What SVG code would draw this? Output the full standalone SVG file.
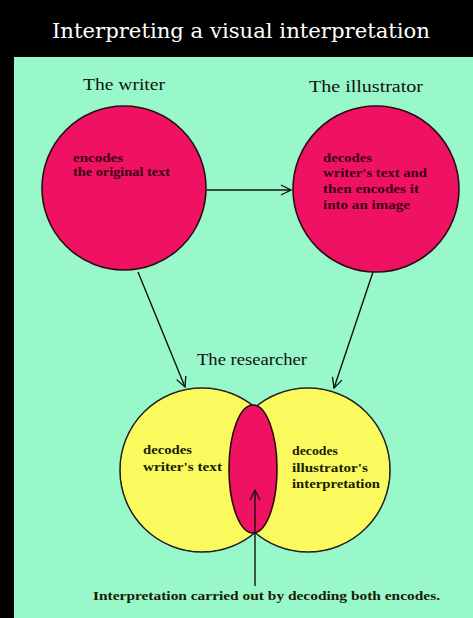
<svg xmlns="http://www.w3.org/2000/svg" width="473" height="618" viewBox="0 0 473 618">
<defs>
<marker id="arr" viewBox="0 0 12 12" refX="11" refY="6" markerWidth="12" markerHeight="12" markerUnits="userSpaceOnUse" orient="auto">
<path d="M1,1 L11,6 L1,11" fill="none" stroke="#111" stroke-width="1.3"/>
</marker>
<style>
.lbl{font-family:"Liberation Serif","Times New Roman",serif;font-size:16px;fill:#111}
.in{font-family:"Liberation Serif","Times New Roman",serif;font-size:11.5px;font-weight:bold;fill:#3a0010}
.iny{font-family:"Liberation Serif","Times New Roman",serif;font-size:11.5px;font-weight:bold;fill:#1a1a00}
.pink{fill:#F01262;stroke:#2a0a10;stroke-width:1.6}
.yel{fill:#FAFA5E;stroke:#222;stroke-width:1.6}
.yelf{fill:#FAFA5E}
.con{stroke:#111;stroke-width:1.4;fill:none;marker-end:url(#arr)}
</style>
</defs>
<rect x="0" y="0" width="473" height="618" fill="#000"/>
<rect x="14" y="57" width="459" height="561" fill="#98F8CA"/>
<text x="241" y="38" text-anchor="middle" textLength="378" lengthAdjust="spacingAndGlyphs" style="font-family:'DejaVu Serif','Liberation Serif',serif;font-size:21px;fill:#fff">Interpreting a visual interpretation</text>

<g id="writer">
<text class="lbl" x="124" y="90" text-anchor="middle" textLength="82" lengthAdjust="spacingAndGlyphs">The writer</text>
<circle class="pink" cx="124" cy="188" r="82"/>
<text class="in" x="73" y="162" textLength="50" lengthAdjust="spacingAndGlyphs">encodes</text>
<text class="in" x="73" y="176" textLength="97" lengthAdjust="spacingAndGlyphs">the original text</text>
</g>

<g id="illustrator">
<text class="lbl" x="366" y="92" text-anchor="middle" textLength="114" lengthAdjust="spacingAndGlyphs">The illustrator</text>
<circle class="pink" cx="376" cy="189" r="83"/>
<text class="in" x="323" y="162" textLength="49" lengthAdjust="spacingAndGlyphs">decodes</text>
<text class="in" x="323" y="177" textLength="104" lengthAdjust="spacingAndGlyphs">writer's text and</text>
<text class="in" x="323" y="193" textLength="96" lengthAdjust="spacingAndGlyphs">then encodes it</text>
<text class="in" x="323" y="209" textLength="87" lengthAdjust="spacingAndGlyphs">into an image</text>
</g>

<g id="researcher">
<text class="lbl" x="252" y="365" text-anchor="middle" textLength="110" lengthAdjust="spacingAndGlyphs">The researcher</text>
<circle class="yel" cx="202" cy="470" r="82"/>
<circle class="yel" cx="308" cy="470" r="82"/>
<circle class="yelf" cx="202" cy="470" r="81"/>
<circle class="yelf" cx="308" cy="470" r="81"/>
<ellipse class="pink" cx="253" cy="469" rx="24" ry="64"/>
<text class="iny" x="143" y="454" textLength="49" lengthAdjust="spacingAndGlyphs">decodes</text>
<text class="iny" x="143" y="471" textLength="79" lengthAdjust="spacingAndGlyphs">writer's text</text>
<text class="iny" x="292" y="455" textLength="46" lengthAdjust="spacingAndGlyphs">decodes</text>
<text class="iny" x="292" y="472" textLength="76" lengthAdjust="spacingAndGlyphs">illustrator's</text>
<text class="iny" x="292" y="488" textLength="88" lengthAdjust="spacingAndGlyphs">interpretation</text>
</g>

<g id="caption">
<text class="iny" x="93" y="600" textLength="347" lengthAdjust="spacingAndGlyphs" style="font-size:12.5px">Interpretation carried out by decoding both encodes.</text>
</g>

<g id="connectors">
<line class="con" x1="207" y1="190" x2="291" y2="190"/>
<line class="con" x1="138" y1="272" x2="185" y2="387"/>
<line class="con" x1="373" y1="272" x2="334" y2="388"/>
<line class="con" x1="255" y1="586" x2="255" y2="490"/>
</g>
</svg>
